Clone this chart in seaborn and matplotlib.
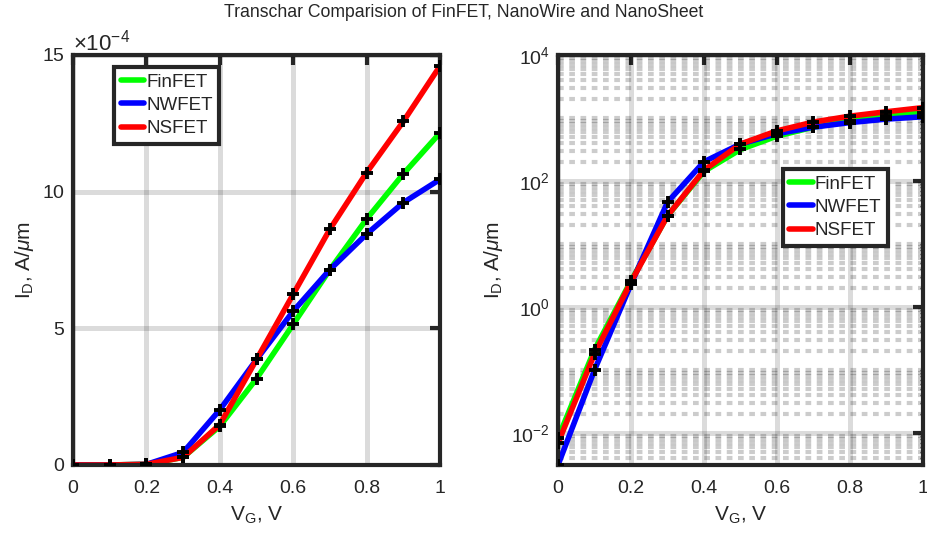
import numpy as np
import pandas as pd
import matplotlib
matplotlib.use('Agg')
import matplotlib.pyplot as plt
import matplotlib.ticker as mticker
from matplotlib.lines import Line2D
import seaborn as sns

# Gate voltage sweep
vg = [0.0, 0.1, 0.2, 0.3, 0.4, 0.5, 0.6, 0.7, 0.8, 0.9, 1.0]
devices = ['FinFET', 'NWFET', 'NSFET']

# Drain current, A/um
finfet = [8.3e-9, 0.21e-6, 2.6e-6, 0.28e-4, 1.42e-4, 3.16e-4, 5.15e-4, 7.15e-4, 9.0e-4, 10.65e-4, 12.15e-4]
nwfet = [3.1e-9, 0.10e-6, 2.3e-6, 0.46e-4, 2.02e-4, 3.86e-4, 5.63e-4, 7.15e-4, 8.45e-4, 9.6e-4, 10.45e-4]
nsfet = [6.9e-9, 0.18e-6, 2.5e-6, 0.28e-4, 1.48e-4, 3.86e-4, 6.25e-4, 8.63e-4, 10.7e-4, 12.57e-4, 14.6e-4]

colors = ['#00ff00', '#0000ff', '#ff0000']
dark = '#262626'

df = pd.DataFrame({
    'VG': vg * 3,
    'ID': finfet + nwfet + nsfet,
    'device': np.repeat(devices, len(vg)),
})
df['ID_log'] = df['ID'] * 1e6  # right panel is plotted scaled

sns.set_style('white')
plt.rcParams['font.family'] = ['Liberation Sans', 'DejaVu Sans']
plt.rcParams['mathtext.fontset'] = 'custom'
plt.rcParams['mathtext.rm'] = 'Liberation Sans'
plt.rcParams['mathtext.it'] = 'Liberation Sans:italic'
plt.rcParams['mathtext.default'] = 'regular'
plt.rcParams['lines.scale_dashes'] = False

fig = plt.figure(figsize=(9.28, 5.39), dpi=100)
ax1 = fig.add_axes([0.0787, 0.1373, 0.3955, 0.7607])
ax2 = fig.add_axes([0.6013, 0.1373, 0.3933, 0.7607])


def draw_panel(ax, ycol):
    sns.lineplot(data=df, x='VG', y=ycol, hue='device', hue_order=devices,
                 palette=colors, linewidth=4, sort=False, legend=False, ax=ax)
    sns.scatterplot(data=df, x='VG', y=ycol, marker='+', color='k', s=75,
                    linewidth=2.8, legend=False, ax=ax, zorder=5)
    ax.set_axisbelow(True)
    for sp in ax.spines.values():
        sp.set_visible(True)
        sp.set_color(dark)
        sp.set_linewidth(3)
    ax.tick_params(which='major', direction='in', top=True, right=True,
                   length=7, width=3, color=dark, labelsize=14, pad=6)
    ax.tick_params(axis='x', which='major', pad=11)
    ax.tick_params(which='minor', direction='in', top=False, right=True,
                   length=2, width=1, color=dark)
    ax.set_xlim(0, 1)
    ax.xaxis.set_major_locator(mticker.MultipleLocator(0.2))
    ax.xaxis.set_major_formatter(mticker.FuncFormatter(lambda v, _: f'{v:g}'))
    ax.xaxis.get_offset_text().set_visible(False)
    ax.set_xlabel(r'V$_{G}$, V', fontsize=15, labelpad=5)
    ax.set_ylabel(r'I$_{D}$, A/$\mathit{\mu}$m', fontsize=15)
    ax.grid(which='major', color='k', alpha=0.14, linewidth=3.6)
    handles = [Line2D([], [], color=c, lw=4) for c in colors]
    return handles


def add_legend(ax, handles, anchor):
    leg = ax.legend(handles, devices, loc='upper left', bbox_to_anchor=anchor,
                    borderaxespad=0, fancybox=False, framealpha=1, edgecolor=dark,
                    fontsize=13.5, handlelength=1.25, handletextpad=0.1,
                    labelspacing=0.33, borderpad=0.35)
    leg.get_frame().set_linewidth(3)


# Linear panel
handles = draw_panel(ax1, 'ID')
ax1.set_ylim(0, 15e-4)
ax1.yaxis.set_major_locator(mticker.MultipleLocator(5e-4))
fmt = mticker.ScalarFormatter(useMathText=True)
fmt.set_powerlimits((-4, -4))
ax1.yaxis.set_major_formatter(fmt)
ax1.yaxis.get_offset_text().set_fontsize(16)
add_legend(ax1, handles, (0.112, 0.971))

# Log panel
draw_panel(ax2, 'ID_log')
ax2.set_yscale('log')
ax2.set_ylim(df['ID_log'].min(), 1e4)
ax2.yaxis.set_major_locator(mticker.LogLocator(base=100, numticks=10))
ax2.yaxis.set_minor_locator(mticker.LogLocator(base=10, subs=np.arange(1, 10), numticks=100))
ax2.yaxis.set_minor_formatter(mticker.NullFormatter())
ax2.grid(which='minor', axis='y', color='k', alpha=0.2, linewidth=3.0,
         linestyle=(0, (4.1, 4.0)))
add_legend(ax2, handles, (0.616, 0.722))

fig.suptitle('Transchar Comparision of FinFET, NanoWire and NanoSheet',
             fontsize=12.7, y=0.993, va='top')

fig.savefig('out.png', dpi=100)
